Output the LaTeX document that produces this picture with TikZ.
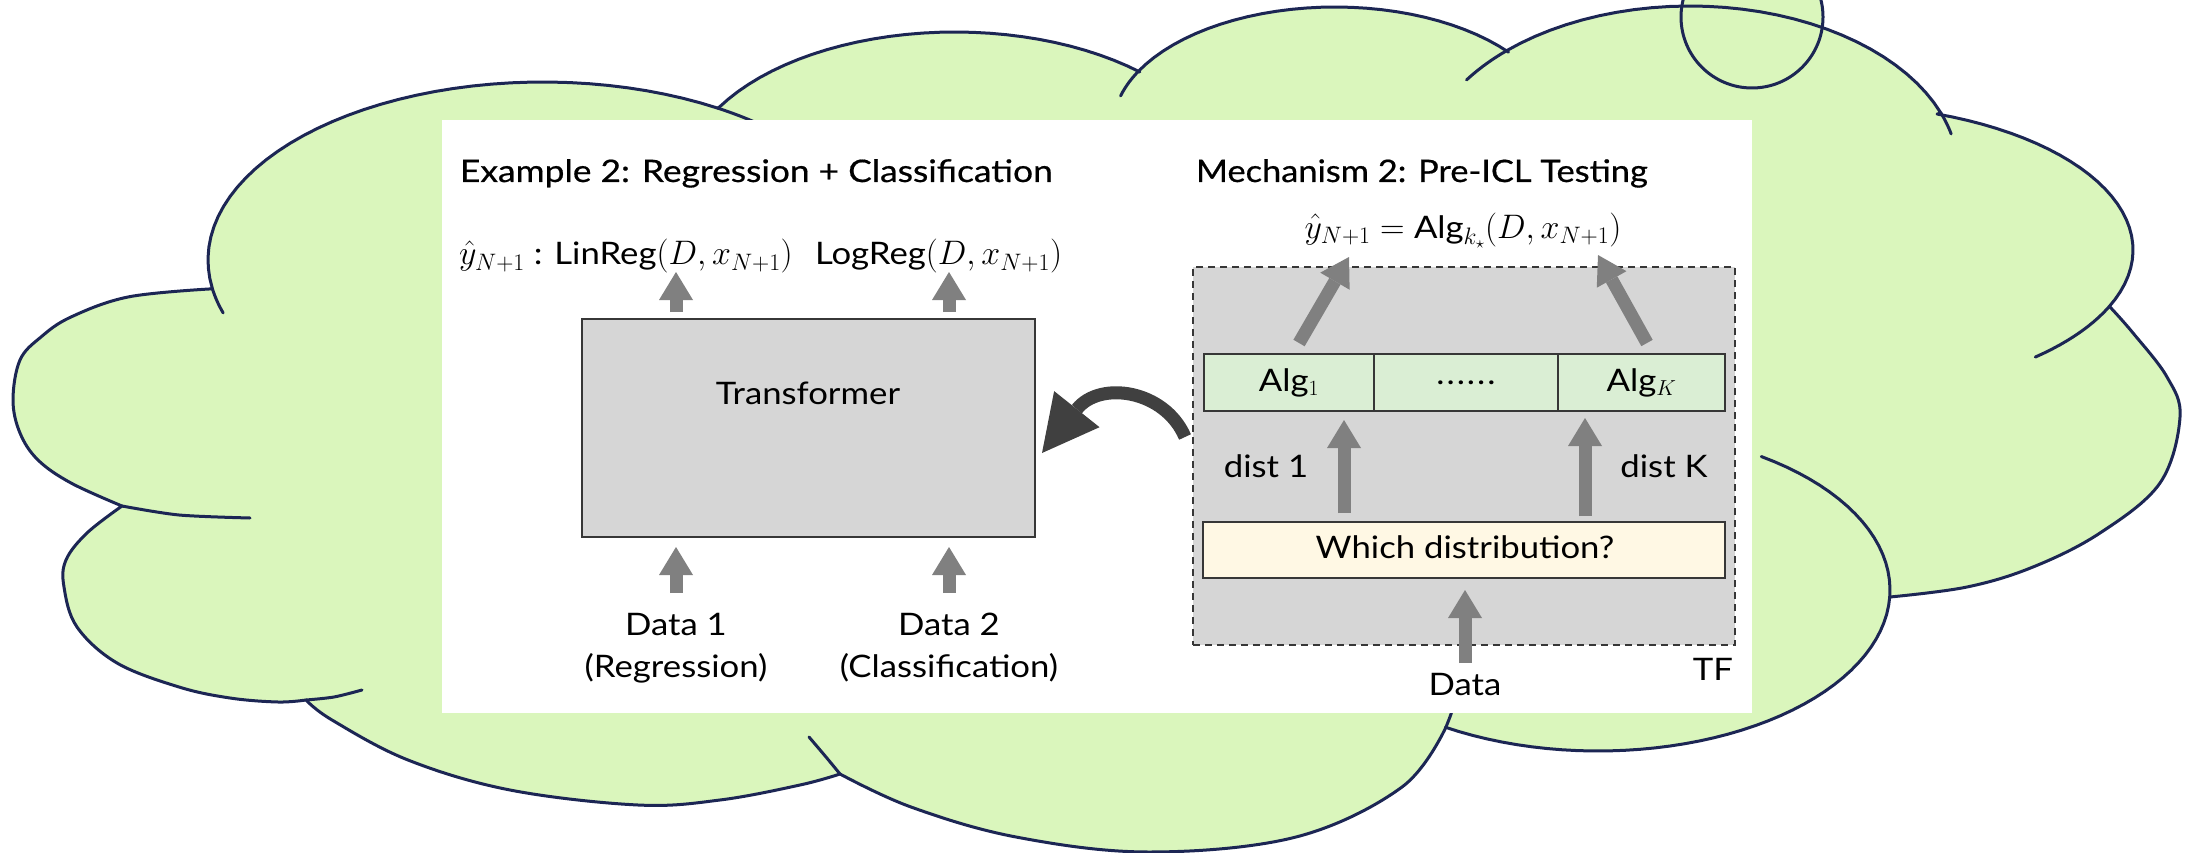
\RequirePackage{fix-cm}
\documentclass[tikz,border=0pt]{standalone}
\usepackage[no-math]{fontspec}
\setmainfont{Lato}[FakeStretch=1.12]
\newfontfamily\titlefont{Lato}[FakeStretch=1.11, FakeBold=0.6]
\newfontfamily\titlefontwide{Lato}[FakeStretch=1.14, FakeBold=0.6]
\usetikzlibrary{arrows.meta}

\newcommand{\msz}{\fontsize{34}{40}\selectfont}
\newcommand{\nsz}{\fontsize{31}{37}\selectfont}

\definecolor{cloudgreen}{RGB}{218,246,188}
\definecolor{cloudline}{RGB}{28,38,84}
\definecolor{boxgray}{RGB}{214,214,214}
\definecolor{alggreen}{RGB}{218,238,212}
\definecolor{cream}{RGB}{255,248,228}
\definecolor{arrowgray}{RGB}{128,128,128}
\definecolor{darkarrow}{RGB}{64,64,64}
\definecolor{edgegray}{RGB}{55,55,55}

\begin{document}
\begin{tikzpicture}[x=1pt,y=-1pt,
  every node/.style={font=\nsz, inner sep=0pt, outer sep=0pt},
  cloudpen/.style={draw=cloudline, line width=3pt, line join=round, line cap=round},
  garrow/.style={draw=arrowgray, line width=13pt, -{Triangle[length=28pt,width=34pt,line width=0pt]}},
  bendarrow/.style={draw=darkarrow, line width=13pt, -{Triangle[length=56pt,width=58pt,line width=0pt]}},
  graybox/.style={draw=edgegray, line width=1.8pt, fill=boxgray},
  algcell/.style={draw=edgegray, line width=1.6pt, fill=alggreen, minimum height=57pt},
  querybox/.style={draw=edgegray, line width=1.8pt, fill=cream, minimum width=522pt, minimum height=56pt},
  tfbox/.style={draw=edgegray, line width=1.6pt, dash pattern=on 7pt off 5pt, fill=boxgray}
]
\useasboundingbox (0,0) rectangle (2187,853);

% thought bubble: small circle behind the cloud
\fill[cloudgreen] (1752,17) circle[radius=71];

% cloud outline built from elliptic and free-form bulges
\filldraw[cloudpen, fill=cloudgreen]
  plot[domain=170.7:301.4, samples=40, variable=\t] ({543+335*cos(\t)},{260+178*sin(\t)})
  -- plot[domain=210:312.8, samples=30, variable=\t] ({955+272*cos(\t)},{182+150*sin(\t)})
  -- plot[domain=207.5:321.4, samples=30, variable=\t] ({1335+222*cos(\t)},{127+120*sin(\t)})
  -- plot[domain=226.9:339.5, samples=30, variable=\t] ({1690+268*cos(\t)},{171+165*sin(\t)})
  -- plot[domain=290.3:383.1, samples=30, variable=\t] ({1833+300*cos(\t)},{250+145*sin(\t)})
  -- plot[smooth, tension=0.6] coordinates {(2110,307) (2133,333) (2167,377) (2180,417) (2160,483) (2100,533) (2033,567) (1967,587) (1890,597)}
  -- plot[domain=2.5:121.5, samples=40, variable=\t] ({1598+292*cos(\t)},{590+161*sin(\t)})
  -- plot[smooth, tension=0.6] coordinates {(1446,727) (1402,787) (1296,837) (1149,852) (1016,837) (911,807) (840,774)}
  -- plot[smooth, tension=0.6] coordinates {(840,774) (800,785) (720,800) (638,805) (510,790) (408,760) (332,720) (306,700)}
  -- plot[smooth, tension=0.6] coordinates {(306,700) (278,702) (230,698) (179,687) (117,663) (77,627) (64,587) (66,560) (87,533) (122,506)}
  -- plot[smooth, tension=0.6] coordinates {(122,506) (71,483) (38,460) (20,433) (13,400) (20,360) (41,337) (71,317) (128,297) (209,289)}
  -- cycle;

% short inner arcs where the bulges overlap
\draw[cloudpen] plot[domain=162.7:170.7, samples=8, variable=\t] ({543+335*cos(\t)},{260+178*sin(\t)});
\draw[cloudpen] plot[domain=301.4:312, samples=8, variable=\t] ({543+335*cos(\t)},{260+178*sin(\t)});
\draw[cloudpen] plot[domain=195:207.5, samples=8, variable=\t] ({1335+222*cos(\t)},{127+120*sin(\t)});
\draw[cloudpen] plot[domain=213.5:226.9, samples=8, variable=\t] ({1690+268*cos(\t)},{171+165*sin(\t)});
\draw[cloudpen] plot[domain=339.5:347, samples=8, variable=\t] ({1690+268*cos(\t)},{171+165*sin(\t)});
\draw[cloudpen] plot[domain=23.1:47.6, samples=12, variable=\t] ({1833+300*cos(\t)},{250+145*sin(\t)});
\draw[cloudpen] plot[domain=-56:2.5, samples=20, variable=\t] ({1598+292*cos(\t)},{590+161*sin(\t)});
\draw[cloudpen] plot[smooth] coordinates {(1446,727) (1451,714) (1455,700)};
\draw[cloudpen] plot[smooth] coordinates {(840,774) (826,757) (809,737)};
\draw[cloudpen] plot[smooth] coordinates {(306,700) (334,697) (362,690)};
\draw[cloudpen] plot[smooth] coordinates {(122,506) (179,515) (250,518)};

\draw[cloudpen] (1752,17) circle[radius=71];

% white panel
\fill[white] (442,120) rectangle (1752,713);

% ---------- left half: Example 2 ----------
\node[anchor=base west] (ttlL) at (460,182) {\titlefontwide Example 2: Regression + Classification};
\node[anchor=base west] (outL1) at (459,265) {\msz$\hat{y}_{N+1}$\nsz{} : \mbox{LinReg}\msz$(D, x_{N+1})$};
\node[anchor=base west] (outL2) at (815,265) {\mbox{LogReg}\msz$(D, x_{N+1})$};

\node[graybox, minimum width=453pt, minimum height=218pt] (trf) at (808.5,428) {};
\node (trflabel) at (808,393) {Transformer};

\coordinate (oA0) at (676,312); \coordinate (oA1) at (676,272);
\coordinate (oB0) at (949,312); \coordinate (oB1) at (949,272);
\draw[garrow] (oA0) -- (oA1);
\draw[garrow] (oB0) -- (oB1);

\coordinate (iA0) at (676,593); \coordinate (iA1) at (676,547);
\coordinate (iB0) at (949,593); \coordinate (iB1) at (949,547);
\draw[garrow] (iA0) -- (iA1);
\draw[garrow] (iB0) -- (iB1);

\node[anchor=base] (d1) at (676,635) {Data 1};
\node[anchor=base] (d1b) at (676,677) {(Regression)};
\node[anchor=base] (d2) at (949,635) {Data 2};
\node[anchor=base] (d2b) at (949,677) {(Classification)};

% ---------- right half: Mechanism 2 ----------
\node[anchor=base west] (ttlR) at (1196,182) {\titlefont Mechanism 2: Pre-ICL Testing};
\node[anchor=base] (outR) at (1463,238) {\msz$\hat{y}_{N+1} = \mbox{\nsz Alg}_{k_\star}(D, x_{N+1})$};

\node[tfbox, minimum width=542pt, minimum height=378pt] (tf) at (1464,456) {};

\node[algcell, minimum width=170pt] (alg1) at (1289,382.5) {Alg$_1$};
\node[algcell, minimum width=184pt] (algdots) at (1466,382.5) {.\kern2pt.\kern2pt.\kern2pt.\kern2pt.\kern2pt.};
\node[algcell, minimum width=167pt] (algK) at (1641.5,382.5) {Alg$_K$};

\node[querybox] (which) at (1464,550) {};
\node[anchor=base] (whichlabel) at (1465,558) {Which distribution?};

\coordinate (s10) at (1299,343); \coordinate (s11) at (1349,257);
\coordinate (sK0) at (1647,343); \coordinate (sK1) at (1598,255);
\draw[garrow] (s10) -- (s11);
\draw[garrow] (sK0) -- (sK1);

\coordinate (r10) at (1344,513); \coordinate (r11) at (1344,420);
\coordinate (rK0) at (1585,516); \coordinate (rK1) at (1585,418);
\draw[garrow] (r10) -- (r11);
\draw[garrow] (rK0) -- (rK1);

\node[anchor=base] (dist1) at (1266,477) {dist 1};
\node[anchor=base] (distK) at (1664,477) {dist K};

\coordinate (dt0) at (1465,663); \coordinate (dt1) at (1465,590);
\draw[garrow] (dt0) -- (dt1);
\node[anchor=base] (datalabel) at (1465,695) {Data};
\node[anchor=base east] (tflabel) at (1733,680) {TF};

% bent arrow from the TF box back to the Transformer
\coordinate (bend0) at (1185,437); \coordinate (bend1) at (1042,453);
\draw[bendarrow] (bend0) .. controls (1165,390) and (1100,380) .. (bend1);

\end{tikzpicture}
\end{document}
